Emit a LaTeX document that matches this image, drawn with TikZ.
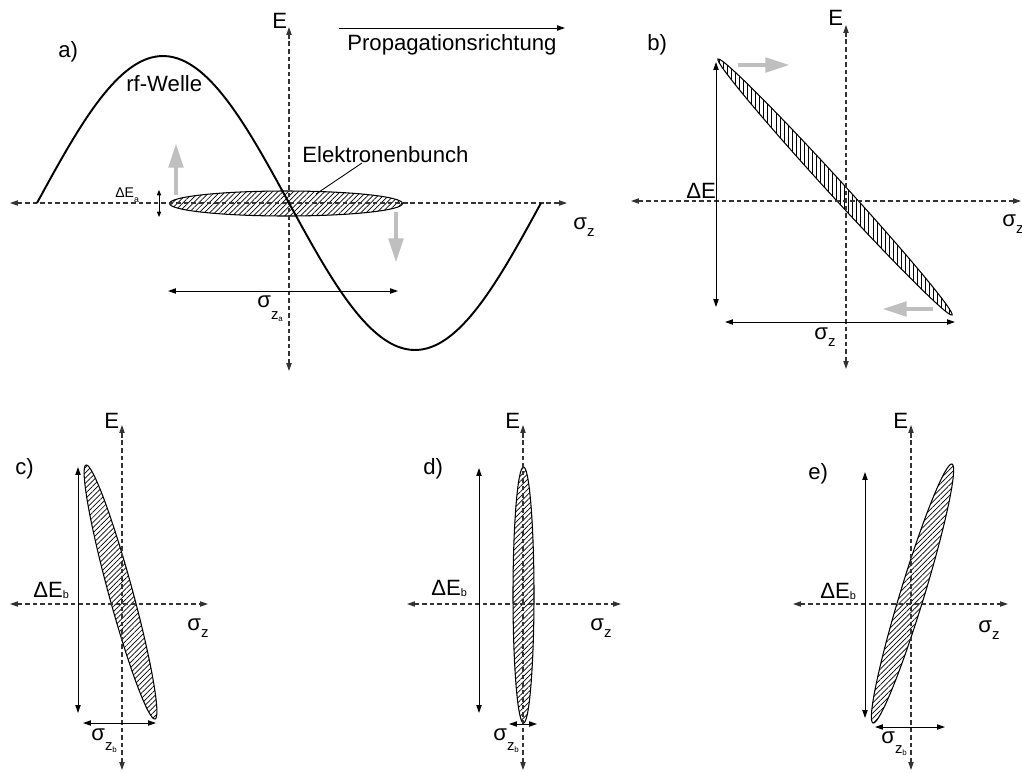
\documentclass[tikz,border=0pt]{standalone}
\usepackage{fontspec}
\setmainfont{Liberation Sans}
\usetikzlibrary{arrows.meta,patterns.meta}
\newcommand\sublow[3]{\raisebox{-#1}{\fontsize{8.5}{9}\selectfont z\raisebox{-#2}{\fontsize{4.5}{5}\selectfont #3}}}
\newcommand\subzz{\raisebox{-4pt}{\fontsize{8.5}{9}\selectfont z}}
\begin{document}
\begin{tikzpicture}[x=0.02cm,y=0.02cm,
  axisline/.style={draw=black!80, line width=0.6pt, dash pattern=on 2.6pt off 1.7pt,
    {Triangle[length=4.5pt,width=3pt]}-{Triangle[length=4.5pt,width=3pt]}},
  dimline/.style={draw=black, line width=0.55pt,
    {Triangle[length=4.5pt,width=3pt]}-{Triangle[length=4.5pt,width=3pt]}},
  grayarrow/.style={draw=black!25, line width=2.8pt, -{Triangle[length=14pt,width=8pt]}},
  bunchdiag/.style={draw=black, line width=0.6pt, pattern={Lines[angle=45,distance=2.1pt,line width=0.4pt]}},
  bunchvert/.style={draw=black, line width=0.6pt, pattern={Lines[angle=90,distance=2.3pt,line width=0.4pt]}},
  lbl/.style={inner sep=0pt, anchor=base west, font=\fontsize{12.6}{15}\selectfont},
  small/.style={inner sep=0pt, anchor=base west, font=\fontsize{8}{9}\selectfont}]
\useasboundingbox (0,0) rectangle (1022,-772);

% ---------- panel a ----------
\draw[bunchdiag] (286,-203.5) ellipse [x radius=116.5, y radius=12.5];
\draw[axisline] (10,-203) -- (567,-203);
\draw[axisline] (289,-371) -- (289,-27);
\draw[line width=1.1pt] plot[domain=0:360, samples=120, smooth] ({37+1.4*\x}, {-203+147*sin(\x)});
\draw[line width=0.5pt] (362,-163) -- (316,-194);
\draw[draw=black, line width=0.55pt, -{Triangle[length=4.5pt,width=3pt]}] (339,-28) -- (565,-28);
\draw[dimline] (168,-291) -- (398,-291);
\draw[line width=0.5pt, {Triangle[length=3pt,width=2.4pt]}-{Triangle[length=3pt,width=2.4pt]}] (159,-190) -- (159,-217);
\draw[grayarrow] (176,-195) -- (176,-143);
\draw[grayarrow] (396,-212) -- (396,-263);

\node[lbl] (la) at (58,-57) {a)};
\node[lbl] (rf) at (126,-91) {rf-Welle};
\node[lbl] (Ea) at (272,-28) {E};
\node[lbl] (prop) at (347,-50) {Propagationsrichtung};
\node[lbl] (eb) at (302,-162) {Elektronenbunch};
\node[lbl] (sza) at (573,-229) {σ\subzz};
\node[small] (dEa) at (115,-197) {ΔE\raisebox{-3.4pt}{\fontsize{5}{6}\selectfont a}};
\node[lbl] (szaa) at (257,-307) {σ\sublow{7.2pt}{1.2pt}{a}};

% ---------- panel b ----------
\draw[bunchvert, rotate around={-47.56:(835,-187)}] (835,-187) ellipse [x radius=173.4, y radius=8];
\draw[axisline] (631,-201) -- (1021,-201);
\draw[axisline] (846,-369) -- (846,-25);
\draw[dimline] (716,-62) -- (716,-307);
\draw[dimline] (725,-322) -- (955,-322);
\draw[grayarrow] (738,-65) -- (790,-65);
\draw[grayarrow] (933,-309) -- (882,-309);

\node[lbl] (lb) at (647,-50) {b)};
\node[lbl] (Eb) at (828,-25) {E};
\node[lbl] (dEbb) at (686,-198) {ΔE};
\node[lbl] (szb1) at (1002,-226) {σ\subzz};
\node[lbl] (szb2) at (814,-339) {σ\subzz};

% ---------- panel c ----------
\draw[bunchdiag, rotate around={-74.8:(120.5,-592)}] (120.5,-592) ellipse [x radius=131.6, y radius=12];
\draw[axisline] (10,-604) -- (208,-604);
\draw[axisline] (122,-770) -- (122,-425);
\draw[dimline] (78,-467) -- (78,-713);
\draw[dimline] (83,-723) -- (156,-723);

\node[lbl] (lc) at (15,-474) {c)};
\node[lbl] (Ec) at (104,-428) {E};
\node[lbl] (dEc) at (33,-597) {ΔE\raisebox{-0.6pt}{\fontsize{6.2}{7}\selectfont b}};
\node[lbl] (szc) at (187,-630) {σ\subzz};
\node[lbl] (szbc) at (91,-740) {σ\sublow{5.7pt}{1.5pt}{b}};

% ---------- panel d ----------
\draw[bunchdiag] (523.5,-595) ellipse [x radius=10.5, y radius=128];
\draw[axisline] (407,-604) -- (621,-604);
\draw[axisline] (523,-770) -- (523,-425);
\draw[dimline] (479,-468) -- (479,-713);
\draw[dimline] (509,-724) -- (537,-724);

\node[lbl] (ld) at (423,-474) {d)};
\node[lbl] (Ed) at (505,-428) {E};
\node[lbl] (dEd) at (431,-595) {ΔE\raisebox{-0.6pt}{\fontsize{6.2}{7}\selectfont b}};
\node[lbl] (szd) at (590,-630) {σ\subzz};
\node[lbl] (szbd) at (493,-740) {σ\sublow{5.7pt}{1.5pt}{b}};

% ---------- panel e ----------
\draw[bunchdiag, rotate around={73.04:(912.5,-593.5)}] (912.5,-593.5) ellipse [x radius=135.4, y radius=12];
\draw[axisline] (793,-604) -- (1008,-604);
\draw[axisline] (911,-770) -- (911,-425);
\draw[dimline] (865,-472) -- (865,-718);
\draw[dimline] (875,-727) -- (945,-727);

\node[lbl] (le) at (808,-479) {e)};
\node[lbl] (Ee) at (893,-428) {E};
\node[lbl] (dEe) at (820,-598) {ΔE\raisebox{-0.6pt}{\fontsize{6.2}{7}\selectfont b}};
\node[lbl] (sze) at (978,-632) {σ\subzz};
\node[lbl] (szbe) at (881,-743) {σ\sublow{5.7pt}{1.5pt}{b}};
\end{tikzpicture}
\end{document}
